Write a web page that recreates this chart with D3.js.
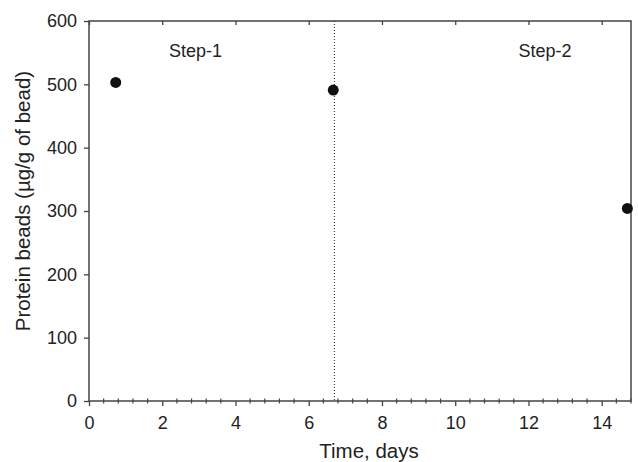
<!DOCTYPE html>
<html>
<head>
<meta charset="utf-8">
<script src="https://cdn.jsdelivr.net/npm/d3@7"></script>
<style>
  body { margin: 0; background: #fff; }
  text { font-family: "Liberation Sans", Arial, sans-serif; fill: #222; }
</style>
</head>
<body>
<svg id="chart"></svg>
<script>
// data
var days = [0.73, 6.67, 14.7];
var protein = [503, 491, 304];
var stepLabels = ['Step-1', 'Step-2'];
var stepLabelX = [2.91, 12.45];
var stepBoundary = 6.7;
var xTicks = [0, 2, 4, 6, 8, 10, 12, 14];
var yTicks = [0, 100, 200, 300, 400, 500, 600];

var W = 638, H = 462;
var m = { left: 89, right: 7, top: 21, bottom: 61 };

var svg = d3.select('#chart')
    .attr('width', W)
    .attr('height', H);

var x = d3.scaleLinear()
    .domain([0, 14.8])
    .range([m.left, W - m.right]);

var y = d3.scaleLinear()
    .domain([0, 600])
    .range([H - m.bottom, m.top]);

var axisColor = '#444';
var font = '"Liberation Sans", Arial, sans-serif';

// frame
svg.append('rect')
    .attr('x', x(0)).attr('y', y(600))
    .attr('width', x(14.8) - x(0)).attr('height', y(0) - y(600))
    .attr('fill', 'none').attr('stroke', axisColor).attr('stroke-width', 1.5);

// minor ticks on bottom axis (crossing the line)
var minor = d3.range(0, 14.81, 0.4).filter(function (v) {
    return Math.abs(v / 2 - Math.round(v / 2)) > 0.01;
});
svg.selectAll('.minor')
    .data(minor)
    .enter().append('line')
    .attr('x1', function (d) { return x(d); })
    .attr('x2', function (d) { return x(d); })
    .attr('y1', y(0) - 2.5).attr('y2', y(0) + 2.5)
    .attr('stroke', axisColor).attr('stroke-width', 1.2);

// bottom axis
var xAxis = svg.append('g')
    .attr('transform', 'translate(0,' + y(0) + ')')
    .call(d3.axisBottom(x).tickValues(xTicks).tickSize(5).tickPadding(10));
xAxis.select('.domain').remove();
xAxis.selectAll('line').attr('stroke', axisColor).attr('stroke-width', 1.3);
xAxis.selectAll('text').attr('font-size', 18).style('font-family', font).attr('fill', '#222');

// top axis, inward ticks only
var xTop = svg.append('g')
    .attr('transform', 'translate(0,' + y(600) + ')')
    .call(d3.axisBottom(x).tickValues(xTicks).tickSize(4).tickFormat(''));
xTop.select('.domain').remove();
xTop.selectAll('line').attr('stroke', axisColor).attr('stroke-width', 1.3);

// left axis
var yAxis = svg.append('g')
    .attr('transform', 'translate(' + x(0) + ',0)')
    .call(d3.axisLeft(y).tickValues(yTicks).tickSize(5).tickPadding(7));
yAxis.select('.domain').remove();
yAxis.selectAll('line').attr('stroke', axisColor).attr('stroke-width', 1.3);
yAxis.selectAll('text').attr('font-size', 18).style('font-family', font).attr('fill', '#222');

// step boundary
svg.append('line')
    .attr('x1', x(stepBoundary)).attr('x2', x(stepBoundary))
    .attr('y1', y(600)).attr('y2', y(0))
    .attr('stroke', '#222').attr('stroke-width', 1)
    .attr('stroke-dasharray', '1,2');

// step labels
svg.selectAll('.step')
    .data(stepLabels)
    .enter().append('text')
    .attr('x', function (d, i) { return x(stepLabelX[i]); })
    .attr('y', 57)
    .attr('text-anchor', 'middle')
    .attr('font-size', 18)
    .text(function (d) { return d; });

// points
svg.selectAll('circle')
    .data(days)
    .enter().append('circle')
    .attr('cx', function (d) { return x(d); })
    .attr('cy', function (d, i) { return y(protein[i]); })
    .attr('r', 5.5)
    .attr('fill', '#111');

// axis titles
svg.append('text')
    .attr('x', 369)
    .attr('y', 458)
    .attr('text-anchor', 'middle')
    .attr('font-size', 20.5)
    .text('Time, days');

svg.append('text')
    .attr('transform', 'translate(30,201) rotate(-90)')
    .attr('text-anchor', 'middle')
    .attr('font-size', 20.5)
    .text('Protein beads (µg/g of bead)');
</script>
</body>
</html>
